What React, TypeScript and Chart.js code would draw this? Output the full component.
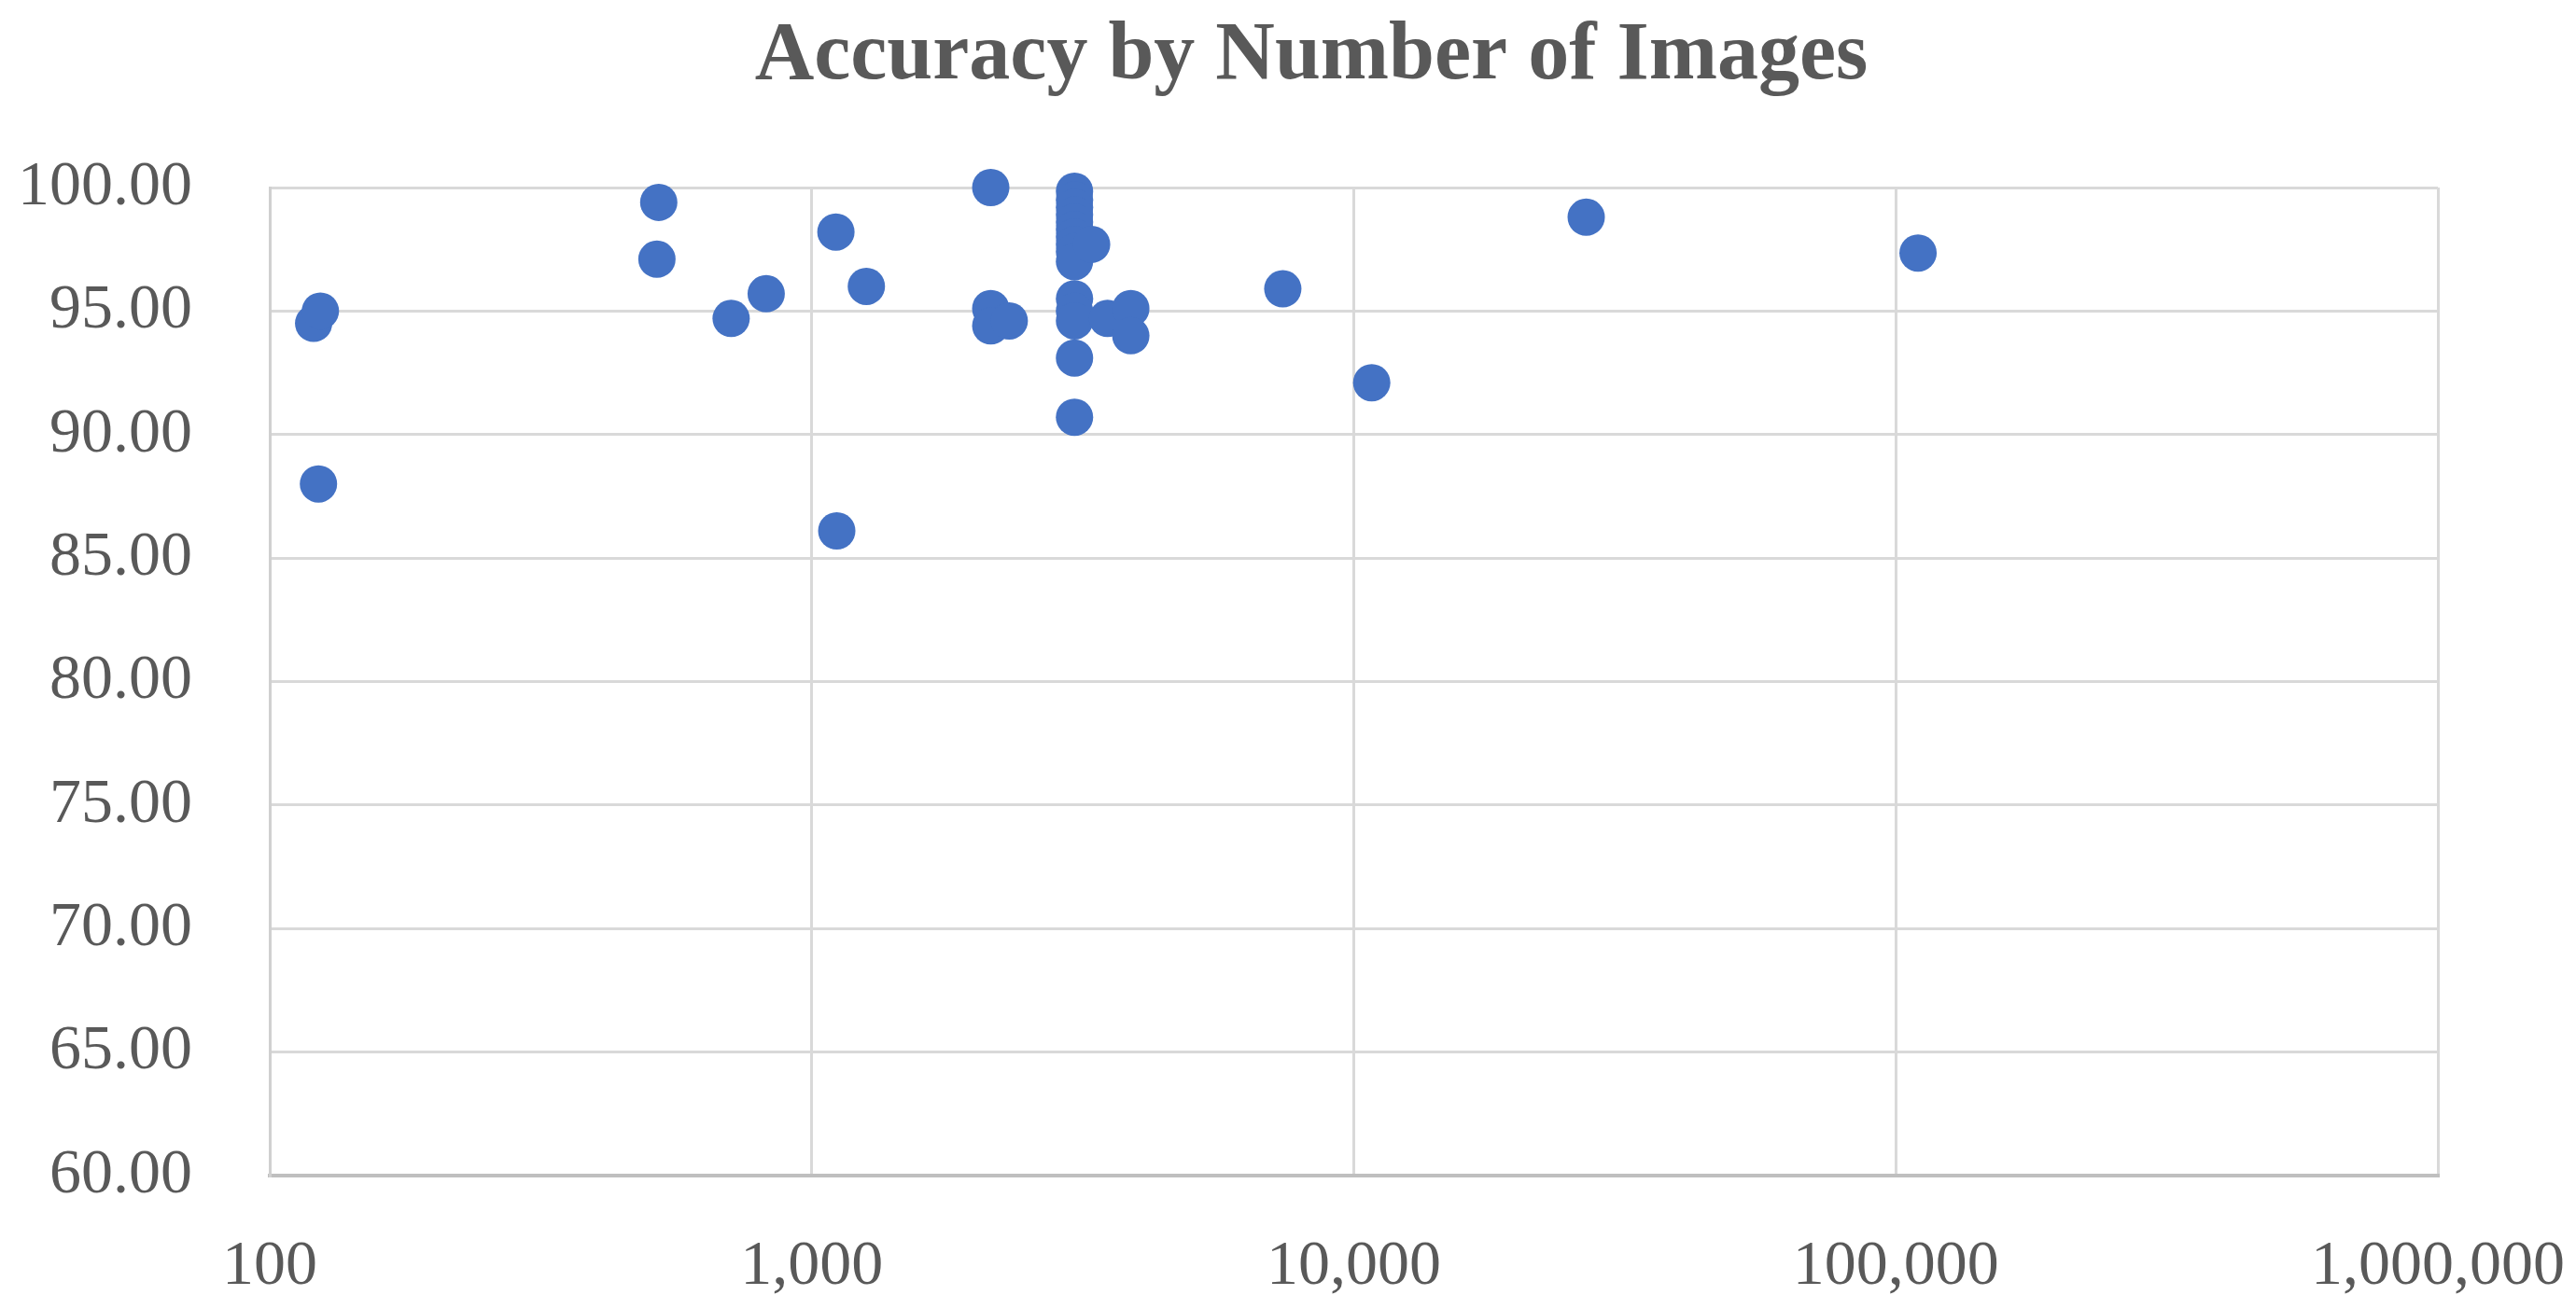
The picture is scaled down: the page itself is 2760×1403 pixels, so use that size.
import React, { useEffect, useRef } from "react";
import { Chart, registerables } from "chart.js";

Chart.register(...registerables);

// Data
const imageCounts: number[] = [
  120.5, 124, 123, 522, 518, 710, 824, 1108, 1112, 1261,
  2139, 2139, 2139, 2314,
  3053, 3053, 3053, 3053, 3053, 3053, 3053, 3053, 3053, 3053,
  3053, 3053, 3053, 3053, 3053,
  3283, 3513, 3878, 3878,
  7396, 10790, 26840, 109900,
];
const accuracies: number[] = [
  94.5, 95.0, 88.0, 99.4, 97.1, 94.7, 95.7, 98.2, 86.1, 96.0,
  100.0, 95.1, 94.4, 94.6,
  99.85, 99.5, 99.2, 98.9, 98.6, 98.3, 98.0, 97.7, 97.4, 97.0,
  95.5, 95.0, 94.6, 93.1, 90.7,
  97.7, 94.7, 95.1, 94.0,
  95.9, 92.1, 98.8, 97.35,
];
const xTickValues: number[] = [100, 1000, 10000, 100000, 1000000];
const yMin = 60;
const yMax = 100;
const yStep = 5;
const chartTitle = "Accuracy by Number of Images";

const W = 2760;
const H = 1403;

const titlePlugin = {
  id: "customTitle",
  afterDraw(chart: any) {
    const ctx = chart.ctx;
    ctx.save();
    ctx.fillStyle = "#595959";
    ctx.font = "bold 88px 'Liberation Serif', serif";
    ctx.textAlign = "center";
    ctx.textBaseline = "alphabetic";
    ctx.fillText(chartTitle, 1405, 84);
    ctx.restore();
  },
};

export default function App() {
  const canvasRef = useRef<HTMLCanvasElement | null>(null);

  useEffect(() => {
    const canvas = canvasRef.current;
    if (!canvas) return;
    const points = imageCounts.map((x, i) => ({ x, y: accuracies[i] }));
    const tickFont = { family: "'Liberation Serif', serif", size: 68 };
    const chart = new Chart(canvas, {
      type: "scatter",
      data: {
        datasets: [
          {
            data: points,
            backgroundColor: "#4472C4",
            borderColor: "#4472C4",
            borderWidth: 0,
            pointRadius: 20,
            pointHoverRadius: 20,
            clip: false,
          },
        ],
      },
      options: {
        responsive: false,
        animation: false,
        devicePixelRatio: 1,
        events: [],
        layout: { padding: { left: 0, right: 148, top: 201, bottom: 0 } },
        plugins: {
          legend: { display: false },
          tooltip: { enabled: false },
          title: { display: false },
        },
        scales: {
          x: {
            type: "logarithmic",
            min: 100,
            max: 1000000,
            afterBuildTicks: (scale: any) => {
              scale.ticks = xTickValues.map((v) => ({ value: v }));
            },
            afterFit: (scale: any) => {
              scale.height = 143;
              scale.paddingLeft = 0;
              scale.paddingRight = 0;
            },
            grid: { color: "#D9D9D9", lineWidth: 3, drawTicks: false },
            border: { color: "#BFBFBF", width: 4 },
            ticks: {
              autoSkip: false,
              maxRotation: 0,
              padding: 57,
              color: "#595959",
              font: tickFont,
              callback: (v: any) => Number(v).toLocaleString("en-US"),
            },
          },
          y: {
            type: "linear",
            min: yMin,
            max: yMax,
            afterFit: (scale: any) => {
              scale.width = 289;
            },
            grid: { color: "#D9D9D9", lineWidth: 3, drawTicks: false },
            border: { color: "#D0D0D0", width: 3 },
            ticks: {
              stepSize: yStep,
              padding: 83,
              color: "#595959",
              font: tickFont,
              callback: (v: any) => Number(v).toFixed(2),
            },
          },
        },
      },
      plugins: [titlePlugin],
    } as any);
    return () => chart.destroy();
  }, []);

  return (
    <div style={{ position: "fixed", left: 0, top: 0, width: W, height: H, background: "#fff" }}>
      <canvas ref={canvasRef} width={W} height={H} style={{ display: "block" }} />
    </div>
  );
}
